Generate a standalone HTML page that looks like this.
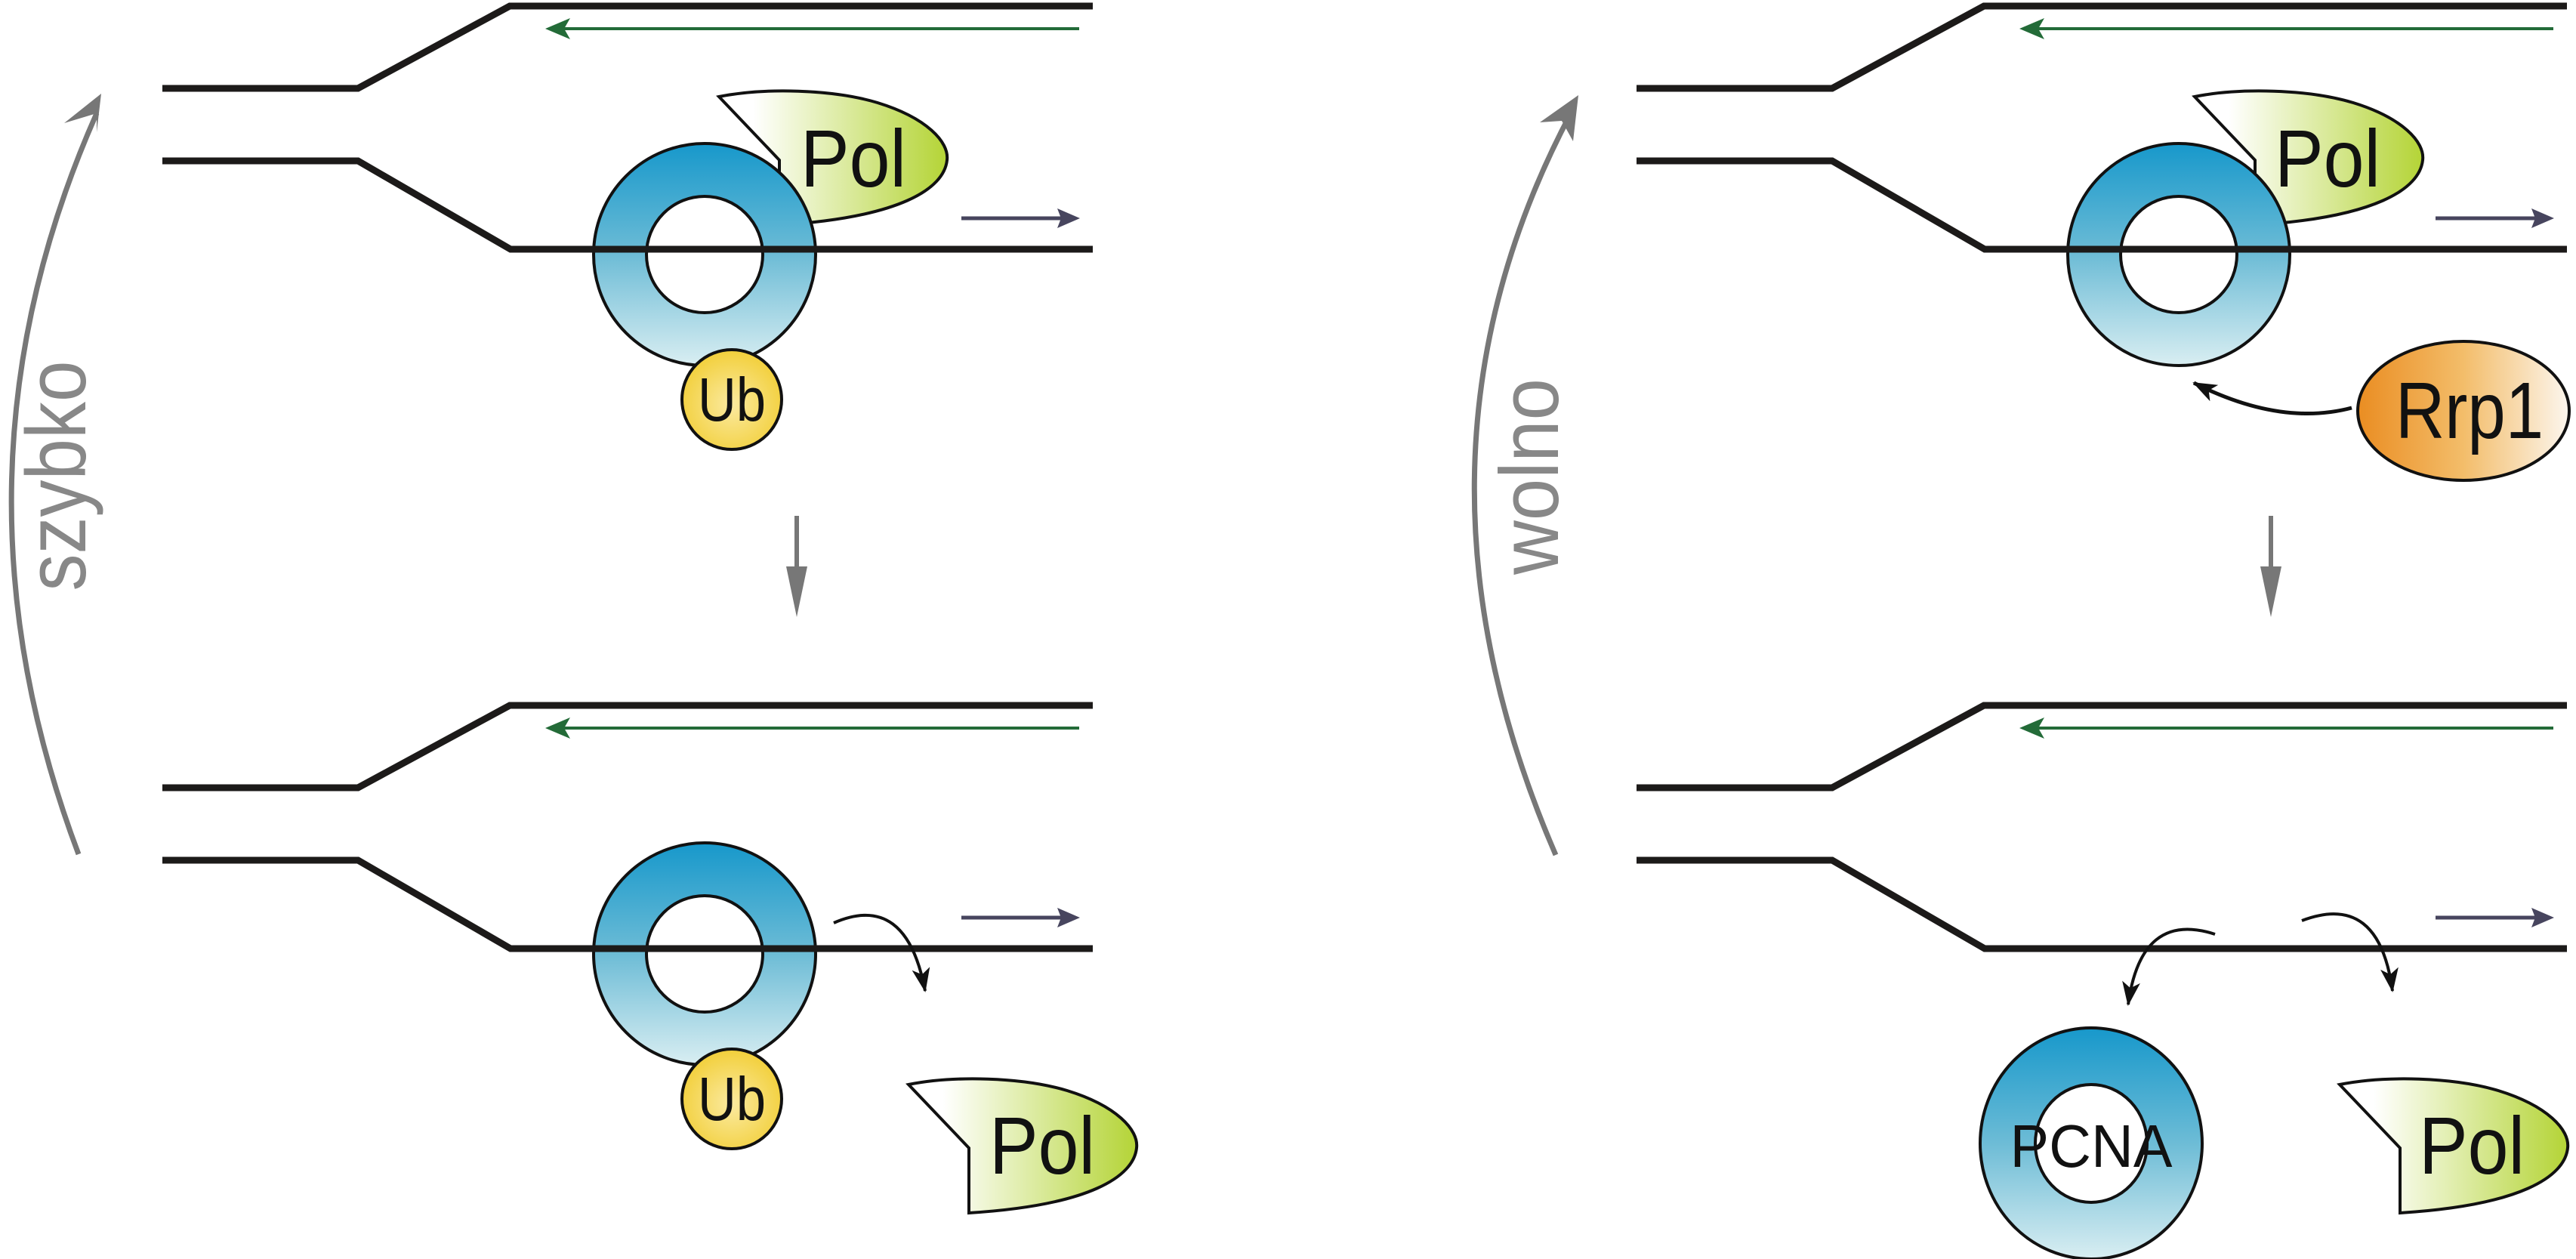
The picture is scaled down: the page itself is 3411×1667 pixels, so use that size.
<!DOCTYPE html>
<html><head><meta charset="utf-8"><style>html,body{margin:0;padding:0;background:#fff}svg{display:block}</style></head>
<body>
<svg width="3411" height="1667" viewBox="0 0 3411 1667" xmlns="http://www.w3.org/2000/svg" font-family="Liberation Sans, Arial, sans-serif">
<defs>
<linearGradient id="ring" x1="0" y1="0" x2="0" y2="1"><stop offset="0" stop-color="#1798cb"/><stop offset="0.5" stop-color="#6dbcd6"/><stop offset="1" stop-color="#d9eef2"/></linearGradient>
<linearGradient id="pol" x1="0" y1="0" x2="1" y2="0"><stop offset="0.15" stop-color="#ffffff"/><stop offset="1" stop-color="#b4d436"/></linearGradient>
<linearGradient id="rrp" x1="0" y1="0" x2="1" y2="0"><stop offset="0" stop-color="#ea8d22"/><stop offset="0.5" stop-color="#f3bd6a"/><stop offset="1" stop-color="#fcf6ee"/></linearGradient>
<radialGradient id="ub" cx="0.5" cy="0.55" r="0.55"><stop offset="0" stop-color="#fbeaa0"/><stop offset="1" stop-color="#f2cf3a"/></radialGradient>
<marker id="ah" markerWidth="32" markerHeight="24" refX="30" refY="12" orient="auto" markerUnits="userSpaceOnUse" viewBox="0 0 32 24"><path d="M0,0 L32,12 L0,24 L8,12 Z" fill="#111"/></marker>
<g id="polshape"><path d="M0,0 C60,-12 150,-10 210,8 C275,28 305,60 302,84 C298,122 240,160 80,170 L80,84 Z" fill="url(#pol)" stroke="#111" stroke-width="4"/></g>
<g id="fork" fill="none" stroke="#1c1a19" stroke-width="9">
<path d="M215,117 L474,117 L675,8 L1447,8"/>
<path d="M215,213 L474,213 L676,330 L1447,330"/>
</g>
<g id="arrows">
<line x1="1429" y1="38" x2="740" y2="38" stroke="#236b38" stroke-width="4"/>
<path d="M722,38 L755,24 L747,38 L755,52 Z" fill="#236b38"/>
<line x1="1273" y1="289" x2="1410" y2="289" stroke="#47455e" stroke-width="5"/>
<path d="M1430,289 L1400,276 L1405,289 L1400,302 Z" fill="#47455e"/>
</g>
</defs>

<path d="M104,1131 Q-85,630 128,150" fill="none" stroke="#777" stroke-width="7"/>
<path d="M134,124 L85,163 L128,150 L128,175 Z" fill="#777"/>
<text transform="translate(113,630) rotate(-90)" text-anchor="middle" font-size="112" fill="#888" textLength="305" lengthAdjust="spacingAndGlyphs">szybko</text>
<path d="M2060,1132 Q1835,612 2080,150" fill="none" stroke="#777" stroke-width="7"/>
<path d="M2090,126 L2039,162 L2068,160 L2083,187 Z" fill="#777"/>
<text transform="translate(2063,631) rotate(-90)" text-anchor="middle" font-size="110" fill="#888" textLength="260" lengthAdjust="spacingAndGlyphs">wolno</text>

<line x1="1055" y1="683" x2="1055" y2="760" stroke="#777" stroke-width="6"/>
<path d="M1041,750 L1069,750 L1055,817 Z" fill="#777"/>
<line x1="3007" y1="683" x2="3007" y2="760" stroke="#777" stroke-width="6"/>
<path d="M2993,750 L3021,750 L3007,817 Z" fill="#777"/>

<use href="#polshape" transform="translate(952,128)"/>
<text x="1130" y="247" font-size="108" text-anchor="middle" fill="#111" textLength="140" lengthAdjust="spacingAndGlyphs">Pol</text>
<path fill-rule="evenodd" d="M786,337 a147,147 0 1,0 294,0 a147,147 0 1,0 -294,0 Z M856,337 a77,77 0 1,0 154,0 a77,77 0 1,0 -154,0 Z" fill="url(#ring)" stroke="#111" stroke-width="4"/>
<use href="#fork"/>
<use href="#arrows"/>
<circle cx="969" cy="529" r="66" fill="url(#ub)" stroke="#111" stroke-width="4"/>
<text x="969" y="557" font-size="82" text-anchor="middle" fill="#111" textLength="90" lengthAdjust="spacingAndGlyphs">Ub</text>

<use href="#polshape" transform="translate(2906,128)"/>
<text x="3082" y="247" font-size="108" text-anchor="middle" fill="#111" textLength="140" lengthAdjust="spacingAndGlyphs">Pol</text>
<path fill-rule="evenodd" d="M2738,337 a147,147 0 1,0 294,0 a147,147 0 1,0 -294,0 Z M2808,337 a77,77 0 1,0 154,0 a77,77 0 1,0 -154,0 Z" fill="url(#ring)" stroke="#111" stroke-width="4"/>
<g transform="translate(1952,0)"><use href="#fork"/><use href="#arrows"/></g>
<ellipse cx="3262" cy="544" rx="140" ry="92" fill="url(#rrp)" stroke="#111" stroke-width="4"/>
<text x="3270" y="580" font-size="106" text-anchor="middle" fill="#111" textLength="196" lengthAdjust="spacingAndGlyphs">Rrp1</text>
<path d="M3114,540 Q3020,565 2905,507" fill="none" stroke="#111" stroke-width="5" marker-end="url(#ah)"/>

<path fill-rule="evenodd" d="M786,1263 a147,147 0 1,0 294,0 a147,147 0 1,0 -294,0 Z M856,1263 a77,77 0 1,0 154,0 a77,77 0 1,0 -154,0 Z" fill="url(#ring)" stroke="#111" stroke-width="4"/>
<g transform="translate(0,926)"><use href="#fork"/><use href="#arrows"/></g>
<circle cx="969" cy="1455" r="66" fill="url(#ub)" stroke="#111" stroke-width="4"/>
<text x="969" y="1483" font-size="82" text-anchor="middle" fill="#111" textLength="90" lengthAdjust="spacingAndGlyphs">Ub</text>
<path d="M1104,1222 Q1200,1180 1225,1312" fill="none" stroke="#111" stroke-width="4" marker-end="url(#ah)"/>
<use href="#polshape" transform="translate(1203,1436)"/>
<text x="1380" y="1554" font-size="108" text-anchor="middle" fill="#111" textLength="140" lengthAdjust="spacingAndGlyphs">Pol</text>

<g transform="translate(1952,926)"><use href="#fork"/><use href="#arrows"/></g>
<path d="M2933,1237 Q2835,1205 2818,1330" fill="none" stroke="#111" stroke-width="4" marker-end="url(#ah)"/>
<path d="M3048,1219 Q3150,1180 3168,1312" fill="none" stroke="#111" stroke-width="4" marker-end="url(#ah)"/>
<ellipse cx="2769" cy="1514" rx="147" ry="153" fill="url(#ring)" stroke="#111" stroke-width="4"/>
<ellipse cx="2769" cy="1514" rx="74" ry="78" fill="#fff" stroke="#111" stroke-width="4"/>
<text x="2769" y="1545" font-size="80" text-anchor="middle" fill="#111" textLength="215" lengthAdjust="spacingAndGlyphs">PCNA</text>
<use href="#polshape" transform="translate(3098,1436)"/>
<text x="3273" y="1554" font-size="108" text-anchor="middle" fill="#111" textLength="140" lengthAdjust="spacingAndGlyphs">Pol</text>
</svg>
</body></html>
